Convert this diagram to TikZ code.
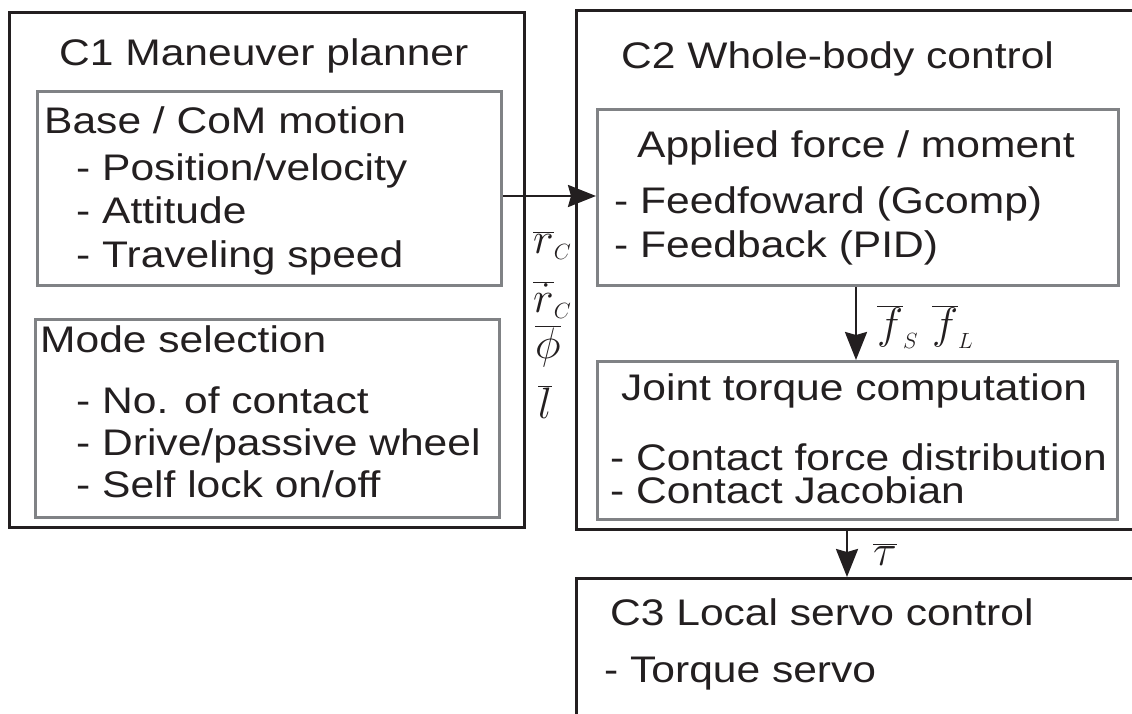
\RequirePackage{fix-cm}
\documentclass[tikz,border=0pt]{standalone}
\usepackage{fontspec}
\setmainfont{Liberation Sans}[FakeStretch=1.15]
\usetikzlibrary{arrows.meta}
\definecolor{ink}{HTML}{231F20}
\definecolor{boxgray}{HTML}{808285}
\begin{document}
\begin{tikzpicture}[x=1pt,y=-1pt,
  outerbox/.style={draw=ink, line width=3pt, inner sep=0, anchor=north west},
  innerbox/.style={draw=boxgray, line width=3pt, inner sep=0, anchor=north west},
  txt/.style={anchor=base west, inner sep=0, text=ink, font=\fontsize{37}{40}\selectfont},
  mth/.style={anchor=base west, inner sep=0, text=ink, font=\fontsize{44}{48}\selectfont},
  arr/.style={draw=ink, line width=2.5pt, -{Stealth[length=28pt,width=22pt,inset=3pt]}}]
\useasboundingbox (0,0) rectangle (1132,713);
\clip (0,0) rectangle (1132,713);
% boxes
\node[outerbox, minimum width=515, minimum height=515] (c1) at (8,11) {};
\node[innerbox, minimum width=464, minimum height=194] (base) at (36,90) {};
\node[innerbox, minimum width=464, minimum height=198] (mode) at (34,318) {};
\node[outerbox, minimum width=600, minimum height=519] (c2) at (575,9) {};
\node[innerbox, minimum width=521, minimum height=176] (app) at (596,108) {};
\node[innerbox, minimum width=520, minimum height=158] (joint) at (596,360) {};
\node[outerbox, minimum width=600, minimum height=200] (c3) at (575,577) {};
% texts C1
\node[txt] (t1) at (59,65) {C1 Maneuver planner};
\node[txt] (t2) at (44,133) {Base / CoM motion};
\node[txt] (t3) at (76,180) {- Position/velocity};
\node[txt] (t4) at (76,223) {- Attitude};
\node[txt] (t5) at (76,267) {- Traveling speed};
\node[txt] (t6) at (40,352) {Mode selection};
\node[txt] (t7) at (76,413) {- No. of contact};
\node[txt] (t8) at (76,455) {- Drive/passive wheel};
\node[txt] (t9) at (76,497) {- Self lock on/off};
% texts C2
\node[txt] (u1) at (621,68) {C2 Whole-body control};
\node[txt] (u2) at (637,157) {Applied force / moment};
\node[txt] (u3) at (614,213) {- Feedfoward (Gcomp)};
\node[txt] (u4) at (614,257) {- Feedback (PID)};
\node[txt] (u5) at (621,400) {Joint torque computation};
\node[txt] (u6) at (610,470) {- Contact force distribution};
\node[txt] (u7) at (610,503) {- Contact Jacobian};
% texts C3
\node[txt] (v1) at (610,625) {C3 Local servo control};
\node[txt] (v2) at (604,682) {- Torque servo};
% math labels
\node[mth] (m1) at (533,253) {$\overline{r}_{\scriptscriptstyle C}$};
\node[mth] (m2) at (533,312) {$\overline{\dot r}_{\scriptscriptstyle C}$};
\node[mth] (m3) at (535,358) {$\overline{\phi}$};
\node[mth] (m4) at (538,418) {$\overline{l}$};
\node[mth] (fs) at (877,338) {$\overline{f}_{\scriptscriptstyle S}$};
\node[mth] (fl) at (932,338) {$\overline{f}_{\scriptscriptstyle L}$};
\node[mth] (tau) at (873,565) {$\overline{\tau}$};
% connectors
\coordinate (ar) at (0,196);
\coordinate (dn) at (856,0);
\coordinate (tc) at (847,0);
\draw[arr] (base.east |- ar) -- (app.west |- ar);
\draw[arr] (app.south -| dn) -- (joint.north -| dn);
\draw[arr] (c2.south -| tc) -- (c3.north -| tc);
\end{tikzpicture}
\end{document}
